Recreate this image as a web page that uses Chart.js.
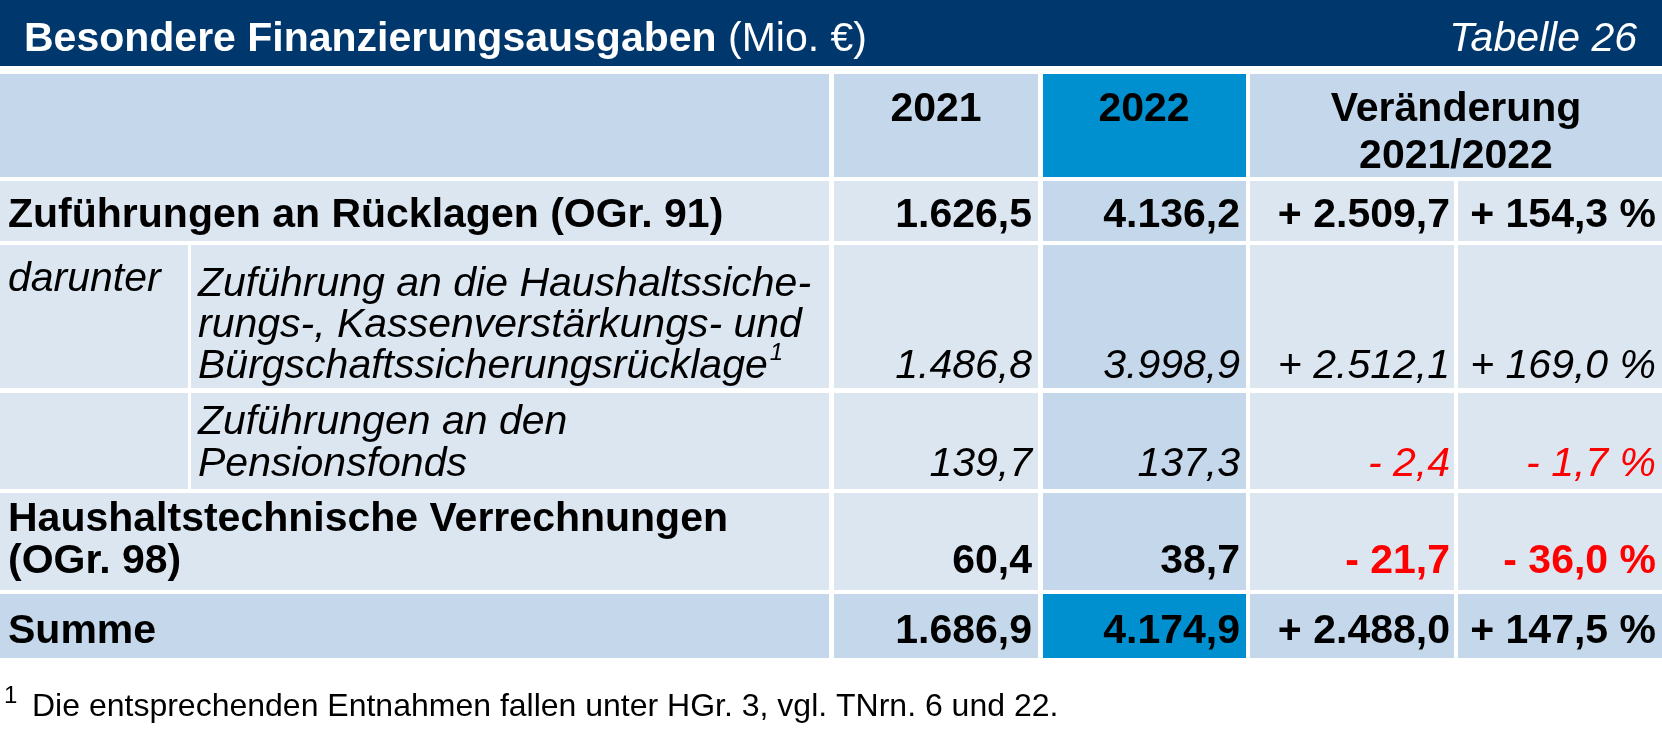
<!DOCTYPE html>
<html>
<head>
<meta charset="utf-8">
<script src="https://cdn.jsdelivr.net/npm/chart.js@4"></script>
<style>
  html, body { margin: 0; padding: 0; background: #fff; }
  #wrap { width: 1662px; height: 730px; position: relative; }
</style>
</head>
<body>
<div id="wrap"><canvas id="tbl"></canvas></div>
<script>
// ── table data ──
const title = 'Besondere Finanzierungsausgaben';
const titleUnit = ' (Mio. €)';
const tableNo = 'Tabelle 26';
const years = ['2021', '2022'];
const changeHeader = ['Veränderung', '2021/2022'];
const rowLabels = [
  ['Zuführungen an Rücklagen (OGr. 91)'],
  ['Zuführung an die Haushaltssiche-', 'rungs-, Kassenverstärkungs- und', 'Bürgschaftssicherungsrücklage'],
  ['Zuführungen an den', 'Pensionsfonds'],
  ['Haushaltstechnische Verrechnungen', '(OGr. 98)'],
  ['Summe'],
];
const values2021 = [1626.5, 1486.8, 139.7, 60.4, 1686.9];
const values2022 = [4136.2, 3998.9, 137.3, 38.7, 4174.9];
const changeAbs = [2509.7, 2512.1, -2.4, -21.7, 2488.0];
const changePct = [154.3, 169.0, -1.7, -36.0, 147.5];
const subLabel = 'darunter';
const footnote = 'Die entsprechenden Entnahmen fallen unter HGr. 3, vgl. TNrn. 6 und 22.';

const fmt = v => Math.abs(v).toFixed(1).replace('.', ',').replace(/\B(?=(\d{3})+(?!\d))/g, '.');
const signed = v => (v < 0 ? '- ' : '+ ') + fmt(v);

const NAVY = '#00376c', LIGHT = '#dce6f1', MID = '#c5d8eb', BLUE = '#0090d0', RED = '#ff0000';
const FONT = '"Liberation Sans", Arial, sans-serif';
const FS = '41px ';

// column edges and row geometry (layout only)
const cols = [[0, 188], [191, 829], [834, 1038], [1043, 1246], [1250, 1454], [1458, 1662]];
const rowsY = [[181, 241], [245, 388], [393, 489], [493, 590], [594, 658]];
const rowBase = [227, 378, 476, 573, 643];
const labelBase = [[227], [296, 337, 378], [434, 476], [531, 573], [643]];
const rowStyle = ['bold', 'italic', 'italic', 'bold', 'bold'];

const tablePlugin = {
  id: 'tablePlugin',
  afterDraw(chart) {
    const { ctx, scales: { x, y } } = chart;
    const X = v => x.getPixelForValue(v), Y = v => y.getPixelForValue(v);
    const rect = (x0, y0, x1, y1, c) => { ctx.fillStyle = c; ctx.fillRect(X(x0), Y(y0), X(x1) - X(x0), Y(y1) - Y(y0)); };
    const text = (s, px, py, font, align, color) => {
      ctx.font = font; ctx.textAlign = align; ctx.fillStyle = color || '#000';
      ctx.textBaseline = 'alphabetic'; ctx.fillText(s, X(px), Y(py));
    };
    ctx.save();

    // title bar
    rect(0, 0, 1662, 66, NAVY);
    ctx.font = 'bold ' + FS + FONT;
    const tw = ctx.measureText(title).width;
    text(title, 24, 51, 'bold ' + FS + FONT, 'left', '#fff');
    text(titleUnit, 24 + tw, 51, FS + FONT, 'left', '#fff');
    text(tableNo, 1637, 51, 'italic ' + FS + FONT, 'right', '#fff');

    // header row
    rect(0, 74, 829, 177, MID);
    rect(834, 74, 1038, 177, MID);
    rect(1043, 74, 1246, 177, BLUE);
    rect(1250, 74, 1662, 177, MID);
    const hf = 'bold ' + FS + FONT;
    text(years[0], 936, 121, hf, 'center');
    text(years[1], 1144, 121, hf, 'center');
    text(changeHeader[0], 1456, 121, hf, 'center');
    text(changeHeader[1], 1456, 168, hf, 'center');

    rowLabels.forEach((lines, i) => {
      const [y0, y1] = rowsY[i];
      const bg = i === 4 ? MID : LIGHT;
      const sub = i === 1 || i === 2;
      if (sub) {
        rect(cols[0][0], y0, cols[0][1], y1, LIGHT);
        rect(cols[1][0], y0, cols[1][1], y1, LIGHT);
      } else {
        rect(0, y0, cols[1][1], y1, bg);
      }
      rect(cols[2][0], y0, cols[2][1], y1, bg);
      rect(cols[3][0], y0, cols[3][1], y1, i === 4 ? BLUE : MID);
      rect(cols[4][0], y0, cols[4][1], y1, bg);
      rect(cols[5][0], y0, cols[5][1], y1, bg);

      const f = (rowStyle[i] === 'bold' ? 'bold ' : 'italic ') + FS + FONT;
      const lx = sub ? 198 : 8;
      lines.forEach((l, k) => text(l, lx, labelBase[i][k], f, 'left'));
      if (i === 1) {
        ctx.font = f;
        const w = ctx.measureText(lines[2]).width;
        text('1', lx + w + 2, 360, 'italic 24px ' + FONT, 'left');
      }
      const b = rowBase[i];
      text(fmt(values2021[i]), cols[2][1] - 6, b, f, 'right');
      text(fmt(values2022[i]), cols[3][1] - 6, b, f, 'right');
      const c = changeAbs[i] < 0 ? RED : '#000';
      text(signed(changeAbs[i]), cols[4][1] - 4, b, f, 'right', c);
      text(signed(changePct[i]) + ' %', cols[5][1] - 6, b, f, 'right', c);
    });
    text(subLabel, 8, 291, 'italic ' + FS + FONT, 'left');

    // footnote
    text('1', 4, 703, '24px ' + FONT, 'left');
    text(footnote, 32, 716, '32px ' + FONT, 'left');
    ctx.restore();
  }
};

new Chart(document.getElementById('tbl'), {
  type: 'scatter',
  data: { datasets: [{ data: [] }] },
  options: {
    responsive: true,
    maintainAspectRatio: false,
    animation: false,
    layout: { padding: 0 },
    plugins: { legend: { display: false }, tooltip: { enabled: false } },
    scales: {
      x: { type: 'linear', min: 0, max: 1662, display: false },
      y: { type: 'linear', min: 0, max: 730, reverse: true, display: false },
    },
  },
  plugins: [tablePlugin],
});
</script>
</body>
</html>
